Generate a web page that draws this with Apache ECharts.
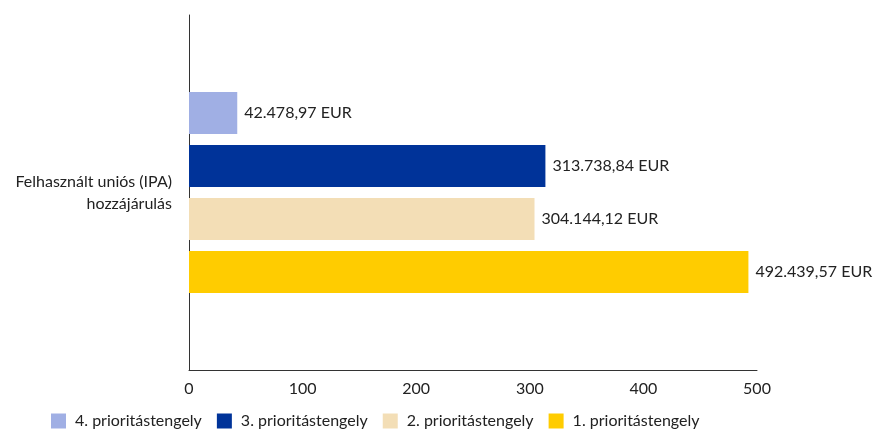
<!DOCTYPE html>
<html>
<head>
<meta charset="utf-8">
<script src="https://cdn.jsdelivr.net/npm/echarts@6/dist/echarts.min.js"></script>
<style>
  html, body { margin: 0; padding: 0; background: #fff; }
  #chart { width: 873px; height: 438px; }
</style>
</head>
<body>
<div id="chart"></div>
<script>
// adatok (EUR)
const categories = ['Felhasznált uniós (IPA)\nhozzájárulás']
const seriesNames = ['4. prioritástengely', '3. prioritástengely', '2. prioritástengely', '1. prioritástengely']
const seriesValues = [
  [42478.97],
  [313738.84],
  [304144.12],
  [492439.57]
]
const seriesColors = ['#a0afe4', '#003399', '#f3deb6', '#ffcc00']

const fmt = v => {
  const parts = v.toFixed(2).split('.')
  const int = parts[0].replace(/\B(?=(\d{3})+(?!\d))/g, '.')
  return int + ',' + parts[1] + ' EUR'
}

const chart = echarts.init(document.getElementById('chart'))

const series = seriesNames.map((name, i) => ({
  name,
  type: 'bar',
  data: seriesValues[i],
  barWidth: 42,
  barGap: '26%',
  itemStyle: { color: seriesColors[i] },
  label: {
    show: true,
    position: 'right',
    distance: 7,
    formatter: p => fmt(p.value),
    fontFamily: 'Lato',
    fontSize: 16,
    color: '#222'
  }
}))

chart.setOption({
  animation: false,
  textStyle: { fontFamily: 'Lato' },
  legend: {
    data: seriesNames,
    left: 46,
    bottom: 4,
    itemWidth: 15,
    itemHeight: 15,
    itemGap: 15,
    icon: 'rect',
    textStyle: { fontSize: 16, color: '#222', fontFamily: 'Lato', padding: [0, 0, 0, 4] }
  },
  grid: { left: 189, right: 116, top: 15, bottom: 68, containLabel: false },
  xAxis: {
    type: 'value',
    min: 0,
    max: 500000,
    interval: 100000,
    axisLine: { show: true, lineStyle: { color: '#333', width: 1 } },
    axisTick: { show: false },
    splitLine: { show: false },
    axisLabel: {
      formatter: v => String(v / 1000),
      fontSize: 16,
      color: '#222',
      margin: 11
    }
  },
  yAxis: {
    type: 'category',
    data: categories,
    axisLine: { show: true, lineStyle: { color: '#333', width: 1 } },
    axisTick: { show: false },
    axisLabel: {
      fontSize: 16,
      color: '#222',
      lineHeight: 22,
      align: 'right',
      margin: 17
    }
  },
  series
})
</script>
</body>
</html>
